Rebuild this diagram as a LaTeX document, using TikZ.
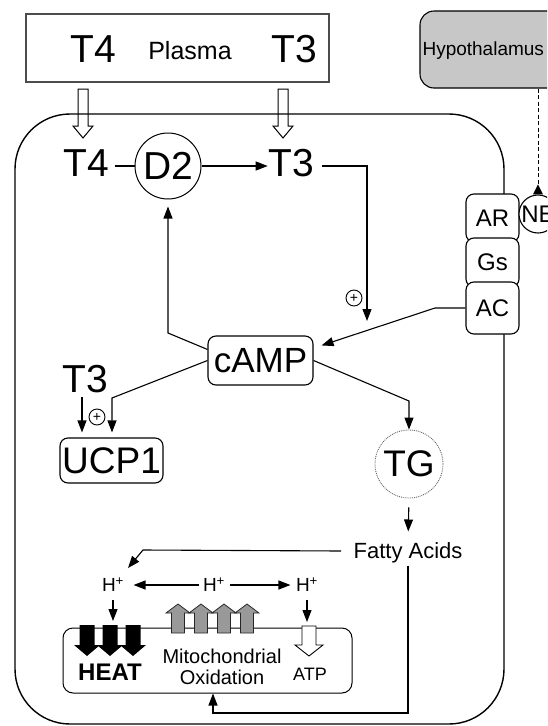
\documentclass[tikz,border=0pt]{standalone}
\usepackage{fontspec}
\setmainfont{Liberation Sans}
\usetikzlibrary{arrows.meta}

\begin{document}
\begin{tikzpicture}[x=1pt,y=-1pt,line width=1.1pt,>={Triangle[length=12pt,width=9pt]},
  txt/.style={inner sep=0pt,text depth=0pt},
  big/.style={txt,font=\fontsize{39}{39}\selectfont},
  mid/.style={txt,font=\fontsize{24}{24}\selectfont},
  lbl/.style={txt,font=\fontsize{20}{21}\selectfont},
  hplus/.style={txt,font=\fontsize{19}{19}\selectfont},
  rbox/.style={draw,fill=white,rounded corners=8pt},
  plus/.style={circle,draw,line width=0.9pt,inner sep=0pt,minimum size=16pt,font=\fontsize{14}{14}\selectfont}]

  \useasboundingbox (0,0) rectangle (547,726);
  \clip (0,0) rectangle (547,726);

  % plasma, hypothalamus
  \node[draw=black!70,line width=1.4pt,minimum width=303pt,minimum height=68pt] (plasma) at (177.5,48) {};
  \node[big] (t4p) at (93,49) {T4};
  \node[txt,font=\fontsize{25}{25}\selectfont] (plasmalbl) at (190,50) {Plasma};
  \node[big] (t3p) at (294,49) {T3};
  \node[draw,fill=black!22,rounded corners=14pt,minimum width=150pt,minimum height=77pt] (hyp) at (495,49.5) {};
  \node[txt,font=\fontsize{19}{19}\selectfont,anchor=west] (hyplbl) at (422,49) {Hypothalamus};

  \foreach \x in {83,283}
    \draw[line width=1pt] (\x-5,89) -- (\x+5,89) -- (\x+5,126) -- (\x+10,126) -- (\x,138) -- (\x-10,126) -- (\x-5,126) -- cycle;

  % cell
  \draw[line width=1.4pt,rounded corners=55pt] (15,114) rectangle (504,724);

  \node[rbox,mid,minimum width=53pt,minimum height=48pt] (ar) at (492.5,218) {AR};
  \node[rbox,mid,minimum width=53pt,minimum height=49pt] (gs) at (492.5,262.5) {Gs};
  \node[rbox,mid,minimum width=53pt,minimum height=52pt] (ac) at (492.5,308) {AC};
  \node[circle,draw,fill=white,mid,minimum size=38pt] (ne) at (538,214) {NE};
  \draw[dash pattern=on 4pt off 2.5pt,line width=0.9pt] (hyp.south -| ne) -- (ne.north);
  \fill (ne.north) ++(-5,0) -- ++(10,0) -- ++(-5,-10) -- cycle;

  \node[big] (t4) at (86,163) {T4};
  \node[big,circle,draw,line width=1pt,minimum size=66pt] (d2) at (168,166) {D2};
  \node[big] (t3) at (291,163) {T3};
  \draw[shorten <=6pt] (t4.east |- d2) -- (d2);
  \draw[->] (d2) -- (t3.west |- d2);
  \coordinate (t3bend) at (367,166);
  \coordinate (t3tip) at (367,321);
  \draw[->] ([xshift=8pt]t3.east |- t3bend) -- (t3bend) -- (t3tip);
  \node[plus] (p1) at (354,298) {+};

  \node[rbox,txt,font=\fontsize{35}{35}\selectfont,minimum width=105pt,minimum height=49pt] (camp) at (260.5,360.5) {cAMP};
  \coordinate (acbend) at (435,308);
  \draw[->] (ac.west) -- (acbend) -- ([shift={(8,10)}]camp.north east);
  \coordinate (d2bend) at (168,333);
  \draw[->,shorten >=7pt] ([shift={(0,14)}]camp.north west) -- (d2bend) -- (d2.south);

  % UCP1
  \node[big] (t3u) at (85,379) {T3};
  \node[plus] (p2) at (97,417) {+};
  \node[rbox,txt,font=\fontsize{37}{37}\selectfont,minimum width=103pt,minimum height=45pt] (ucp) at (111.5,460.5) {UCP1};
  \coordinate (ucpbend) at (112,398);
  \draw[->,shorten >=5pt] (camp.west) -- (ucpbend) -- (ucpbend |- ucp.north);
  \draw[->,shorten <=4pt,shorten >=5pt] ([xshift=-3pt]t3u.south) -- ([xshift=-3pt]t3u.south |- ucp.north);

  % TG
  \node[circle,draw=black!60,densely dotted,line width=0.9pt,txt,font=\fontsize{37}{37}\selectfont,minimum size=68pt] (tg) at (409,464) {TG};
  \coordinate (tgbend) at (409,401);
  \draw[->] (camp.east) -- (tgbend) -- (tg.north);
  \node[txt,font=\fontsize{22}{22}\selectfont] (fa) at (408,551) {Fatty Acids};
  \draw[->,shorten <=9pt,shorten >=11pt] (tg.south) -- (fa.north);

  \node[hplus] (hl) at (113,585) {H\textsuperscript{+}};
  \node[hplus] (hm) at (214,585) {H\textsuperscript{+}};
  \node[hplus] (hr) at (307,585) {H\textsuperscript{+}};
  \coordinate (fabend) at (143,550);
  \draw[->] ([xshift=-12pt]fa.west) -- (fabend) -- ([shift={(15,-17)}]hl.center);
  \draw[->,shorten <=3pt,shorten >=9pt] (hm) -- (hl);
  \draw[->,shorten <=4pt,shorten >=5pt] (hm) -- (hr);
  \coordinate (heattop) at (112,621);
  \coordinate (atptop) at (307,622);
  \draw[->,shorten <=7pt] (hl.south) -- (hl |- heattop);
  \draw[->,shorten <=7pt] (hr.south) -- (hr |- atptop);

  % mitochondrion
  \node[draw,rounded corners=10pt,line width=1pt,minimum width=289pt,minimum height=65pt] (mito) at (207.5,660.5) {};
  \foreach \x in {87,110,133}
    \fill (\x-7.5,625) -- (\x+7.5,625) -- (\x+7.5,645) -- (\x+13,645) -- (\x,656) -- (\x-13,645) -- (\x-7.5,645) -- cycle;
  \foreach \x in {178,201,224,247}
    \filldraw[fill=black!40,draw=black!85,line width=0.8pt] (\x-6.5,633) -- (\x+6.5,633) -- (\x+6.5,613) -- (\x+12,613) -- (\x,604) -- (\x-12,613) -- (\x-6.5,613) -- cycle;
  \filldraw[fill=white,line width=0.9pt] (302,626) -- (316,626) -- (316,645) -- (323,645) -- (309,656) -- (295,645) -- (302,645) -- cycle;
  \node[txt,font=\fontsize{24}{24}\selectfont\bfseries] (heat) at (110,672) {HEAT};
  \node[lbl,align=center] (ox) at (222,667) {Mitochondrial\\Oxidation};
  \node[txt,font=\fontsize{18}{18}\selectfont] (atp) at (310,674) {ATP};

  \coordinate (fa1) at (408,713);
  \coordinate (fa2) at (213,713);
  \draw[->,shorten <=6pt] (fa.south) -- (fa1) -- (fa2) -- (fa2 |- mito.south);
\end{tikzpicture}
\end{document}
